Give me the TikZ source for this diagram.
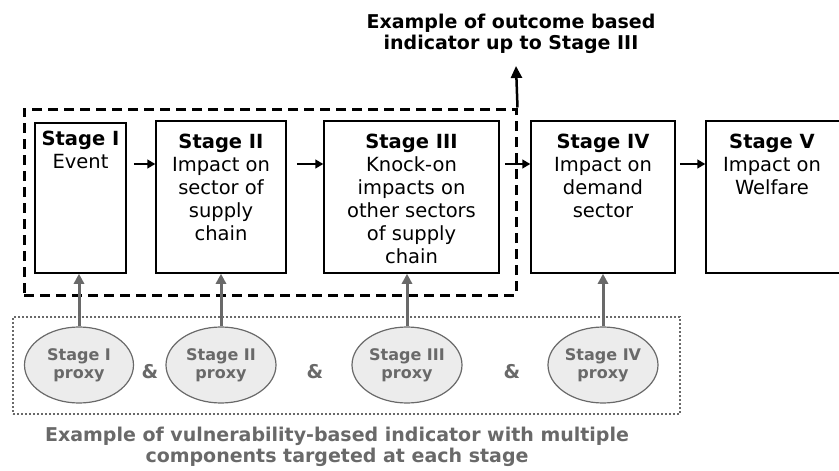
\documentclass[tikz,border=0pt]{standalone}
\usepackage{fontspec}
\setmainfont{DejaVu Sans}
\usetikzlibrary{shapes.geometric,arrows.meta}
\definecolor{proxygray}{RGB}{105,105,105}
\definecolor{proxyfill}{RGB}{236,236,236}
\tikzset{
        stagebox/.style={draw,line width=1.5pt,minimum height=152pt,inner sep=0pt},
        stagetext/.style={anchor=north,align=center,inner sep=0pt,font=\fontsize{19.5}{23}\selectfont},
        flow/.style={-{Triangle[length=8pt,width=9pt]},line width=1.5pt},
        proxy/.style={draw=proxygray,fill=proxyfill,ellipse,line width=1.2pt,minimum width=109pt,minimum height=76pt,inner sep=0pt,align=center,text=proxygray,font=\fontsize{16}{18}\selectfont\bfseries},
        feed/.style={draw=proxygray,line width=3pt,-{Triangle[length=10pt,width=10pt]}},
        amp/.style={text=proxygray,font=\fontsize{19}{22}\selectfont\bfseries},
        note/.style={align=center,font=\fontsize{19}{21.5}\selectfont\bfseries}
}
\begin{document}
\begin{tikzpicture}[x=1pt,y=-1pt]
        \useasboundingbox(0,0)rectangle(839,471);
        \node(outcome)at(270,202)[draw,dash pattern=on 10pt off 6pt,line width=3pt,minimum width=492pt,minimum height=186pt]{};
        \node(vuln)at(346.5,365.5)[draw=proxygray,dash pattern=on 2pt off 2pt,line width=2pt,minimum width=667pt,minimum height=97pt]{};
        \node(s1)at(80.5,198)[stagebox,minimum width=91pt,minimum height=150pt]{};
        \node(s2)at(221,197)[stagebox,minimum width=130pt]{};
        \node(s3)at(411.5,197)[stagebox,minimum width=175pt]{};
        \node(s4)at(603,197)[stagebox,minimum width=144pt]{};
        \node(s5)at(773,197)[stagebox,minimum width=134pt]{};
        \node(t1)at(80.5,131)[stagetext]{\textbf{Stage I}\\Event};
        \node(t2)at(221,134)[stagetext]{\textbf{Stage II}\\Impact on\\sector of\\supply\\chain};
        \node(t3)at(411.5,134)[stagetext]{\textbf{Stage III}\\Knock-on\\impacts on\\other sectors\\of supply\\chain};
        \node(t4)at(603,134)[stagetext]{\textbf{Stage IV}\\Impact on\\demand\\sector};
        \node(t5)at(772,134)[stagetext]{\textbf{Stage V}\\Impact on\\Welfare};
        \node(p1)at(79,365)[proxy]{Stage I\\proxy};
        \node(p2)at(221,365)[proxy,minimum width=110pt]{Stage II\\proxy};
        \node(p3)at(407,365)[proxy,minimum width=110pt]{Stage III\\proxy};
        \node(p4)at(603,365)[proxy,minimum width=110pt]{Stage IV\\proxy};
        \node(a1)at(150,372)[amp]{\&};
        \node(a2)at(315,372)[amp]{\&};
        \node(a3)at(512,372)[amp]{\&};
        \node(top)at(511,34)[note]{Example of outcome based\\indicator up to Stage III};
        \node(bottom)at(337,447)[note,text=proxygray]{Example of vulnerability-based indicator with multiple\\components targeted at each stage};
        \coordinate(up)at(516,66);
        \draw[line width=2.5pt,-{Triangle[length=12pt,width=11pt]}](outcome.north east)--(up);
        \draw[flow,shorten <=7pt]([yshift=34pt]s1.east)--([yshift=34pt]s1.east-|s2.west);
        \draw[flow,shorten <=10pt]([yshift=33pt]s2.east)--([yshift=33pt]s3.west);
        \draw[flow,shorten <=5pt]([yshift=33pt]s3.east)--([yshift=33pt]s4.west);
        \draw[flow,shorten <=4pt]([yshift=33pt]s4.east)--([yshift=33pt]s5.west);
        \draw[feed](p1.north)--(p1.north|-s1.south);
        \draw[feed](p2.north)--(p2.north|-s2.south);
        \draw[feed](p3.north)--(p3.north|-s3.south);
        \draw[feed](p4.north)--(p4.north|-s4.south);
\end{tikzpicture}
\end{document}
